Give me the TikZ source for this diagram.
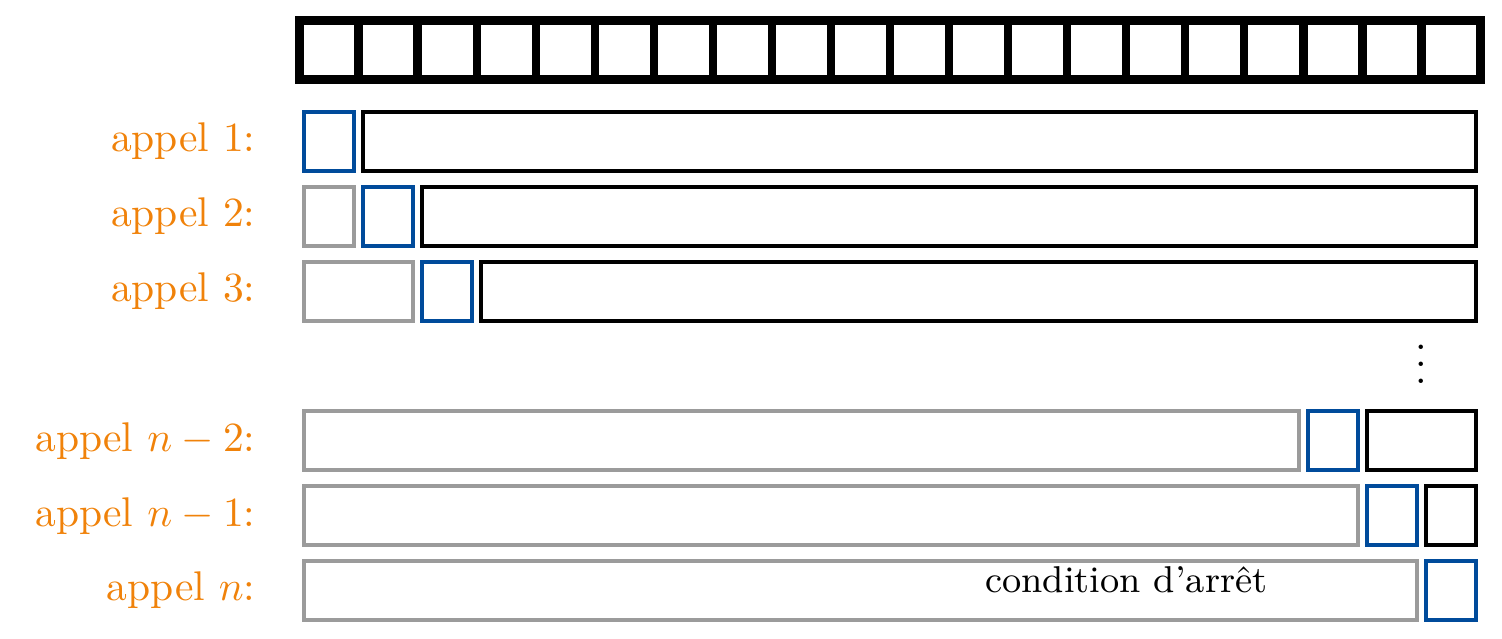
\documentclass[tikz,border=0pt]{standalone}
\usepackage{fontspec}
\usepackage{amsmath,amssymb}
\usepackage{tikz}
\definecolor{bleu}{RGB}{0,75,155}
\definecolor{gris}{RGB}{155,155,155}
\definecolor{orangeappel}{RGB}{240,130,10}
\newcommand*\tranche[4]{\draw[#1] ({#2+0.08},#4) rectangle ({#3-0.08},{#4-1});}

\begin{document}
\begin{tikzpicture}[x=0.5cm, y=0.5cm,
        fait/.style={gris, line width=1pt},
        pivot/.style={bleu, line width=1pt},
        reste/.style={black, line width=1pt},
        appel/.style={orangeappel, anchor=east}]
        \useasboundingbox (-5.072,0.347) rectangle (20.364,-10.474);

        % le tableau
        \draw[line width=2pt] (0,0) rectangle (20,-1);
        \foreach \i in {1,...,19}
            \draw[line width=2pt] (\i,0) -- (\i,-1);

        % appels 1, 2, 3
        \tranche{pivot}{0}{1}{-1.55}
        \tranche{reste}{1}{20}{-1.55}
        \tranche{fait}{0}{1}{-2.817}
        \tranche{pivot}{1}{2}{-2.817}
        \tranche{reste}{2}{20}{-2.817}
        \tranche{fait}{0}{2}{-4.084}
        \tranche{pivot}{2}{3}{-4.084}
        \tranche{reste}{3}{20}{-4.084}

        % appels n-2, n-1, n
        \tranche{fait}{0}{17}{-6.618}
        \tranche{pivot}{17}{18}{-6.618}
        \tranche{reste}{18}{20}{-6.618}
        \tranche{fait}{0}{18}{-7.885}
        \tranche{pivot}{18}{19}{-7.885}
        \tranche{reste}{19}{20}{-7.885}
        \tranche{fait}{0}{19}{-9.152}
        \tranche{pivot}{19}{20}{-9.152}

        \node[appel] (a1) at (-0.5,-2.05) {appel $1$:};
        \node[appel] (a2) at (-0.5,-3.317) {appel $2$:};
        \node[appel] (a3) at (-0.5,-4.584) {appel $3$:};
        \node[appel] (an2) at (-0.5,-7.118) {appel $n-2$:};
        \node[appel] (an1) at (-0.5,-8.385) {appel $n-1$:};
        \node[appel] (an) at (-0.5,-9.652) {appel $n$:};

        \node (pts) at (19,-5.61) {$\vdots$};
        \node[font=\small, anchor=base] (arret) at (14,-9.68) {condition d'arrêt};
    \end{tikzpicture}
\end{document}
